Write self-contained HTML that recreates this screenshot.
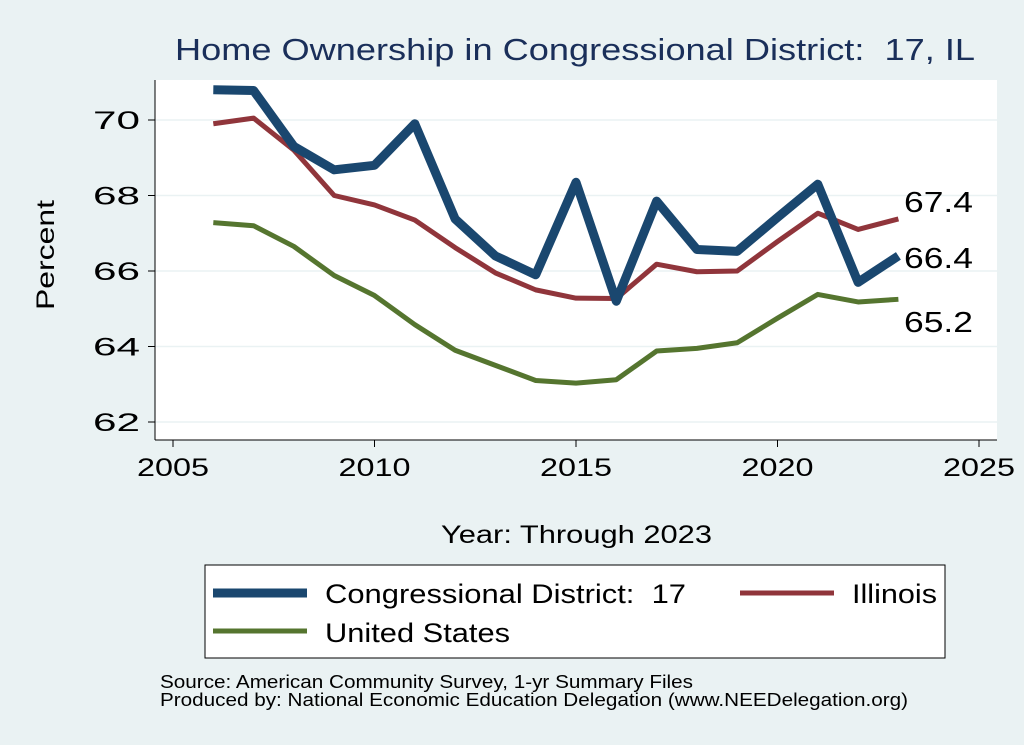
<!DOCTYPE html>
<html><head><meta charset="utf-8"><style>
body{margin:0;background:#eaf2f3;}
svg{display:block;font-family:"Liberation Sans",Arial,sans-serif;}
</style></head><body>
<svg id="s" width="1024" height="745" viewBox="0 0 1024 745">
<rect width="1024" height="745" fill="#eaf2f3"/>
<rect x="155" y="80" width="842" height="360" fill="#fff"/>
<g id="grid" stroke="#eaf2f3" stroke-width="1.5"></g>
<line x1="155" y1="80" x2="155" y2="440" stroke="#000" stroke-width="1"/>
<line x1="155" y1="440" x2="997" y2="440" stroke="#000" stroke-width="1"/>
<g id="ticks" font-size="25" fill="#000"></g>
<g id="lines" fill="none" stroke-linejoin="round"></g>
<text x="175" y="60" font-size="31" fill="#1a2f5a" textLength="800" lengthAdjust="spacingAndGlyphs">Home Ownership in Congressional District:&#160; 17, IL</text>
<text x="0" y="0" font-size="25" textLength="110" lengthAdjust="spacingAndGlyphs" transform="translate(54 310) rotate(-90)">Percent</text>
<text x="441" y="543" font-size="25" textLength="271" lengthAdjust="spacingAndGlyphs">Year: Through 2023</text>
<text x="904" y="212" font-size="29" textLength="69" lengthAdjust="spacingAndGlyphs">67.4</text>
<text x="904" y="268" font-size="29" textLength="69" lengthAdjust="spacingAndGlyphs">66.4</text>
<text x="904" y="332" font-size="29" textLength="69" lengthAdjust="spacingAndGlyphs">65.2</text>
<rect x="205" y="565" width="740" height="93" fill="#fff" stroke="#000" stroke-width="1"/>
<line x1="213" y1="593" x2="307" y2="593" stroke="#1a476f" stroke-width="9"/>
<text x="325" y="603" font-size="27" textLength="361" lengthAdjust="spacingAndGlyphs">Congressional District:&#160; 17</text>
<line x1="740" y1="593" x2="834" y2="593" stroke="#90353b" stroke-width="5"/>
<text x="852" y="603" font-size="27" textLength="85" lengthAdjust="spacingAndGlyphs">Illinois</text>
<line x1="213" y1="631" x2="307" y2="631" stroke="#55752f" stroke-width="5"/>
<text x="325" y="642" font-size="27" textLength="185" lengthAdjust="spacingAndGlyphs">United States</text>
<text x="160" y="688" font-size="18" textLength="533" lengthAdjust="spacingAndGlyphs">Source: American Community Survey, 1-yr Summary Files</text>
<text x="160" y="706" font-size="18" textLength="748" lengthAdjust="spacingAndGlyphs">Produced by: National Economic Education Delegation (www.NEEDelegation.org)</text>
</svg>
<script>
var X=function(y){return 173+(y-2005)*40.3;},Y=function(v){return 120+(70-v)*37.75;};
var ns="http://www.w3.org/2000/svg";
function el(p,t,a,txt){var e=document.createElementNS(ns,t);for(var k in a)e.setAttribute(k,a[k]);if(txt)e.textContent=txt;document.getElementById(p).appendChild(e);}
[62,64,66,68,70].forEach(function(v){el("grid","line",{x1:155,x2:997,y1:Y(v),y2:Y(v)});
el("ticks","line",{x1:148,x2:155,y1:Y(v),y2:Y(v),stroke:"#000"});
el("ticks","text",{x:140,y:Y(v)+9,"text-anchor":"end",textLength:47,lengthAdjust:"spacingAndGlyphs"},String(v));});
[2005,2010,2015,2020,2025].forEach(function(y){el("ticks","line",{x1:X(y),x2:X(y),y1:440,y2:447,stroke:"#000"});
el("ticks","text",{x:X(y)-36,y:476,textLength:72,lengthAdjust:"spacingAndGlyphs"},String(y));});
var cd=[70.8,70.78,69.3,68.68,68.8,69.9,67.38,66.4,65.9,68.35,65.2,67.85,66.57,66.52,67.42,68.3,65.7,66.4];
var il=[69.9,70.05,69.2,68.0,67.75,67.35,66.62,65.95,65.5,65.28,65.27,66.18,65.98,66.0,66.78,67.53,67.1,67.38];
var us=[67.28,67.2,66.65,65.88,65.35,64.58,63.9,63.5,63.1,63.03,63.12,63.88,63.95,64.1,64.75,65.38,65.18,65.25];
function pts(a){return a.map(function(v,i){return X(2006+i)+","+Y(v);}).join(" ");}
el("lines","polyline",{points:pts(us),stroke:"#55752f","stroke-width":5});
el("lines","polyline",{points:pts(il),stroke:"#90353b","stroke-width":5});
el("lines","polyline",{points:pts(cd),stroke:"#1a476f","stroke-width":9});
</script>
</body></html>
